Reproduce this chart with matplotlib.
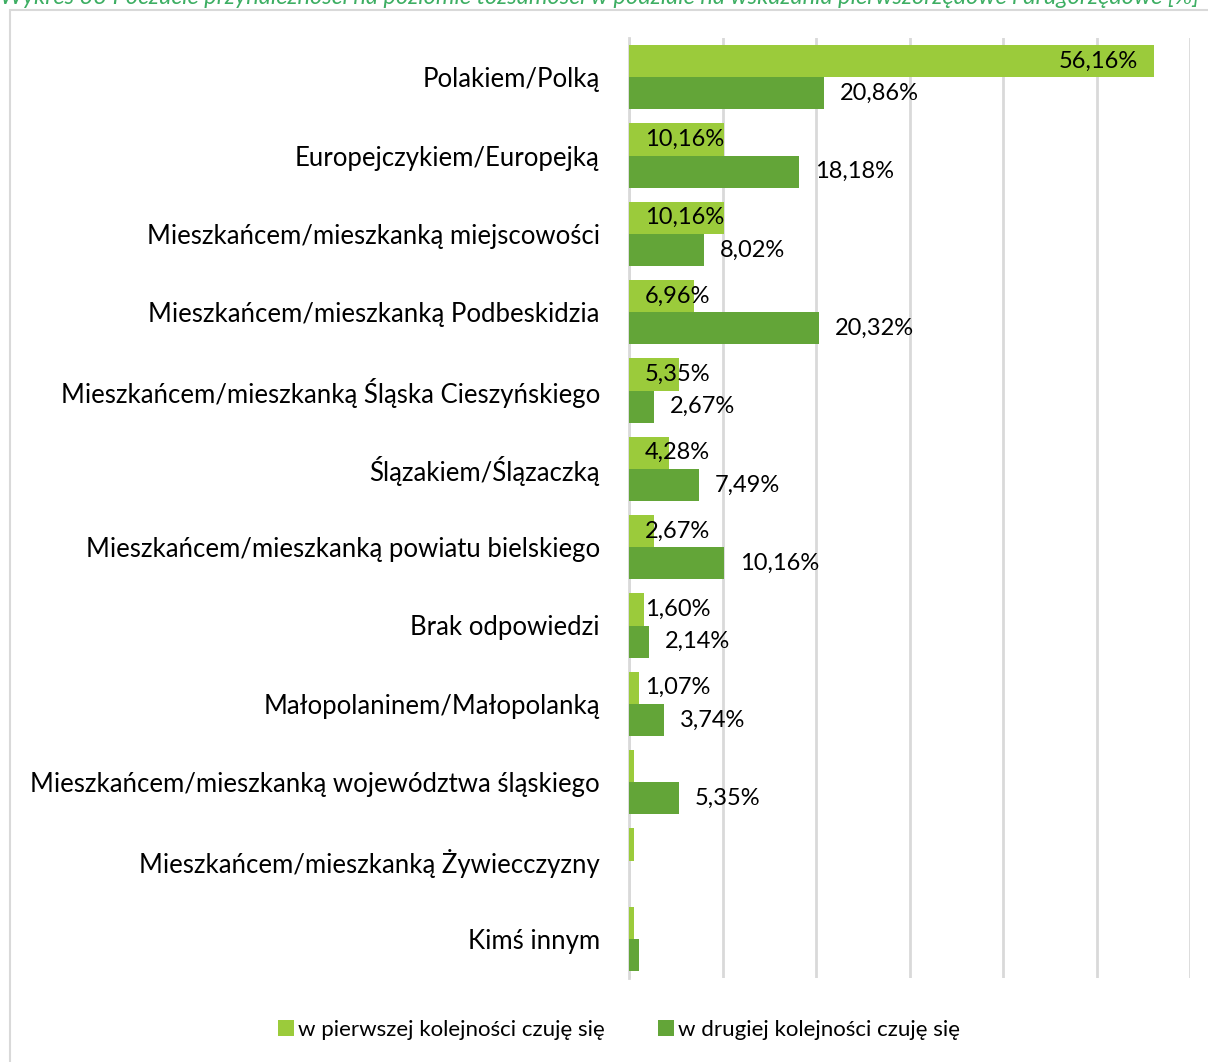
import matplotlib.pyplot as plt
import matplotlib.patches as mpatches
import numpy as np

categories = [
    'Polakiem/Polką',
    'Europejczykiem/Europejką',
    'Mieszkańcem/mieszkanką miejscowości',
    'Mieszkańcem/mieszkanką Podbeskidzia',
    'Mieszkańcem/mieszkanką Śląska Cieszyńskiego',
    'Ślązakiem/Ślązaczką',
    'Mieszkańcem/mieszkanką powiatu bielskiego',
    'Brak odpowiedzi',
    'Małopolaninem/Małopolanką',
    'Mieszkańcem/mieszkanką województwa śląskiego',
    'Mieszkańcem/mieszkanką Żywiecczyzny',
    'Kimś innym',
]
first = [56.16, 10.16, 10.16, 6.96, 5.35, 4.28, 2.67, 1.60, 1.07, 0.53, 0.53, 0.53]
second = [20.86, 18.18, 8.02, 20.32, 2.67, 7.49, 10.16, 2.14, 3.74, 5.35, 0.0, 1.07]
first_labels = ['56,16%', '10,16%', '10,16%', '6,96%', '5,35%', '4,28%', '2,67%',
                '1,60%', '1,07%', '', '', '']
second_labels = ['20,86%', '18,18%', '8,02%', '20,32%', '2,67%', '7,49%', '10,16%',
                 '2,14%', '3,74%', '5,35%', '', '']

title = ('Wykres 33 Poczucie przynależności na poziomie tożsamości w podziale '
         'na wskazania pierwszorzędowe i drugorzędowe [%]')

light = '#9BCB3B'
dark = '#63A538'
grid = '#D9D9D9'
font = ['Lato', 'DejaVu Sans']

W, H = 1208, 1062
fig = plt.figure(figsize=(W / 100, H / 100), dpi=100)
fig.patch.set_facecolor('white')

# outer chart border (cut off on right/bottom)
fig.add_artist(mpatches.Rectangle((10 / W, -0.1), 1.2, 1 - 10 / H + 0.1,
                                  transform=fig.transFigure, fill=False,
                                  edgecolor=grid, linewidth=1.5))

# title sits half outside the picture, as in the source image
fig.text(0.0, 1 - 4 / H, title, color='#3DAE63', style='italic', fontsize=17,
         family=font, ha='left', va='baseline')

ax = fig.add_axes([629 / W, 1 - 978 / H, (1190 - 629) / W, (978 - 38) / H])
y = np.arange(len(categories))
h = 0.41
ax.barh(y - h / 2, first, height=h, color=light, label='w pierwszej kolejności czuję się', zorder=3)
ax.barh(y + h / 2, second, height=h, color=dark, label='w drugiej kolejności czuję się', zorder=3)

ax.set_xlim(0, 60)
ax.set_ylim(len(categories) - 0.5, -0.5)
ax.set_xticks(np.arange(0, 61, 10))
ax.set_xticklabels([])
ax.tick_params(length=0)
ax.set_yticks(y)
ax.set_yticklabels(categories, fontsize=18.5, family=font)
ax.tick_params(axis='y', pad=21)
ax.grid(axis='x', color=grid, linewidth=2, zorder=0)
for s in ['top', 'right', 'bottom']:
    ax.spines[s].set_visible(False)
ax.spines['left'].set_color(grid)
ax.spines['left'].set_linewidth(2)

for i, (v, lab) in enumerate(zip(first, first_labels)):
    if not lab:
        continue
    if v > 30:
        ax.text(v - 1.7, i - h / 2, lab, ha='right', va='center', fontsize=17, family=font, zorder=4)
    else:
        ax.text(1.7, i - h / 2, lab, ha='left', va='center', fontsize=17, family=font, zorder=4)
for i, (v, lab) in enumerate(zip(second, second_labels)):
    if lab:
        ax.text(v + 1.7, i + h / 2, lab, ha='left', va='center', fontsize=17, family=font, zorder=4)

fig.legend(loc='center', bbox_to_anchor=(619 / W, 1 - 1030 / H), ncol=2, frameon=False,
           handlelength=0.7, handleheight=0.7, handletextpad=0.2, columnspacing=2.4,
           prop={'family': font, 'size': 16})

fig.savefig('out.png', dpi=100)
